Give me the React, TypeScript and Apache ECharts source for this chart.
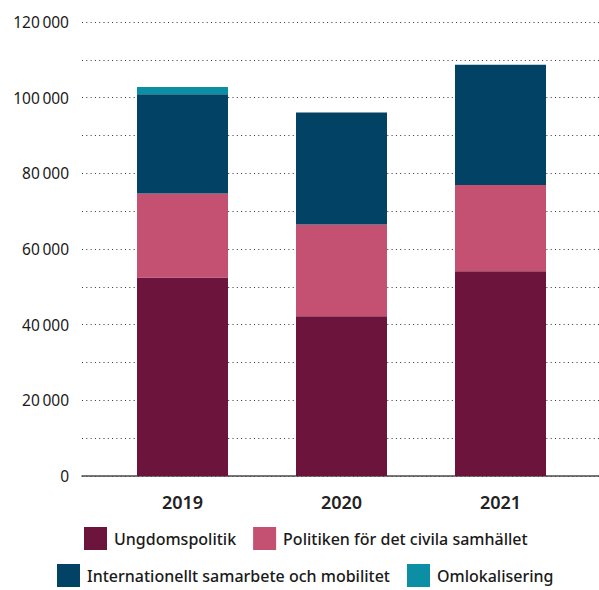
import React, { useEffect, useRef } from "react";
import * as echarts from "echarts";

const years = ["2019", "2020", "2021"];
const ungdomspolitik = [52500, 42200, 54100];
const civilaSamhallet = [22200, 24300, 22800];
const internationellt = [26200, 29600, 31800];
const omlokalisering = [1900, 0, 0];

const seriesNames = [
  "Ungdomspolitik",
  "Politiken för det civila samhället",
  "Internationellt samarbete och mobilitet",
  "Omlokalisering",
];
const colors = ["#6d143c", "#c45072", "#024265", "#0c8fa5"];

const FONT = "'Noto Sans', sans-serif";

const fmt = (v: number) => {
  if (v === 0) return "0";
  const s = String(v);
  return s.slice(0, s.length - 3) + "\u2009" + s.slice(s.length - 3);
};

export default function App() {
  const ref = useRef<HTMLDivElement>(null);
  useEffect(() => {
    if (!ref.current) return;
    const chart = echarts.init(ref.current, null, { renderer: "svg" });
    const values = [ungdomspolitik, civilaSamhallet, internationellt, omlokalisering];
    const legendText = { fontSize: 16, fontWeight: 500, color: "#1a1a1a", fontFamily: FONT, padding: [0, 0, 0, 2] };
    chart.setOption({
      animation: false,
      textStyle: { fontFamily: FONT },
      grid: [
        { left: 82, right: 0, top: 22, bottom: 114 },
        { left: 103, right: 19, top: 22, bottom: 114 },
      ],
      xAxis: [
        {
          gridIndex: 0,
          type: "category",
          data: years,
          axisLine: { show: true, lineStyle: { color: "#4a4a4a", width: 1.5 } },
          axisTick: { show: false },
          axisLabel: { show: false },
          splitLine: { show: false },
        },
        {
          gridIndex: 1,
          type: "category",
          data: years,
          axisLine: { show: false },
          axisTick: { show: false },
          axisLabel: {
            fontSize: 18,
            fontWeight: 600,
            color: "#222",
            margin: 17,
            fontFamily: FONT,
          },
        },
      ],
      yAxis: [
        {
          gridIndex: 0,
          type: "value",
          min: 0,
          max: 120000,
          interval: 10000,
          axisLine: { show: false },
          axisTick: { show: false },
          axisLabel: {
            fontSize: 15.5,
            color: "#1a1a1a",
            margin: 13,
            fontFamily: FONT,
            formatter: (v: number) => (v % 20000 === 0 ? fmt(v) : ""),
          },
          splitLine: {
            show: true,
            lineStyle: { color: "#333", width: 1, type: [1, 3.3] },
          },
        },
        {
          gridIndex: 1,
          type: "value",
          min: 0,
          max: 120000,
          show: false,
          splitLine: { show: false },
        },
      ],
      legend: [
        {
          data: [seriesNames[0], seriesNames[1]],
          top: 527,
          left: 84,
          padding: 0,
          icon: "rect",
          itemWidth: 23,
          itemHeight: 23,
          itemGap: 17,
          textStyle: legendText,
        },
        {
          data: [seriesNames[2], seriesNames[3]],
          top: 564,
          left: 57,
          padding: 0,
          icon: "rect",
          itemWidth: 23,
          itemHeight: 23,
          itemGap: 17,
          textStyle: legendText,
        },
      ],
      series: seriesNames.map((name, i) => ({
        name,
        type: "bar",
        stack: "total",
        xAxisIndex: 1,
        yAxisIndex: 1,
        barWidth: 91,
        itemStyle: { color: colors[i] },
        data: values[i],
      })),
    });
    return () => chart.dispose();
  }, []);
  return <div ref={ref} style={{ width: 599, height: 590, position: "absolute", left: 0, top: 0 }} />;
}
